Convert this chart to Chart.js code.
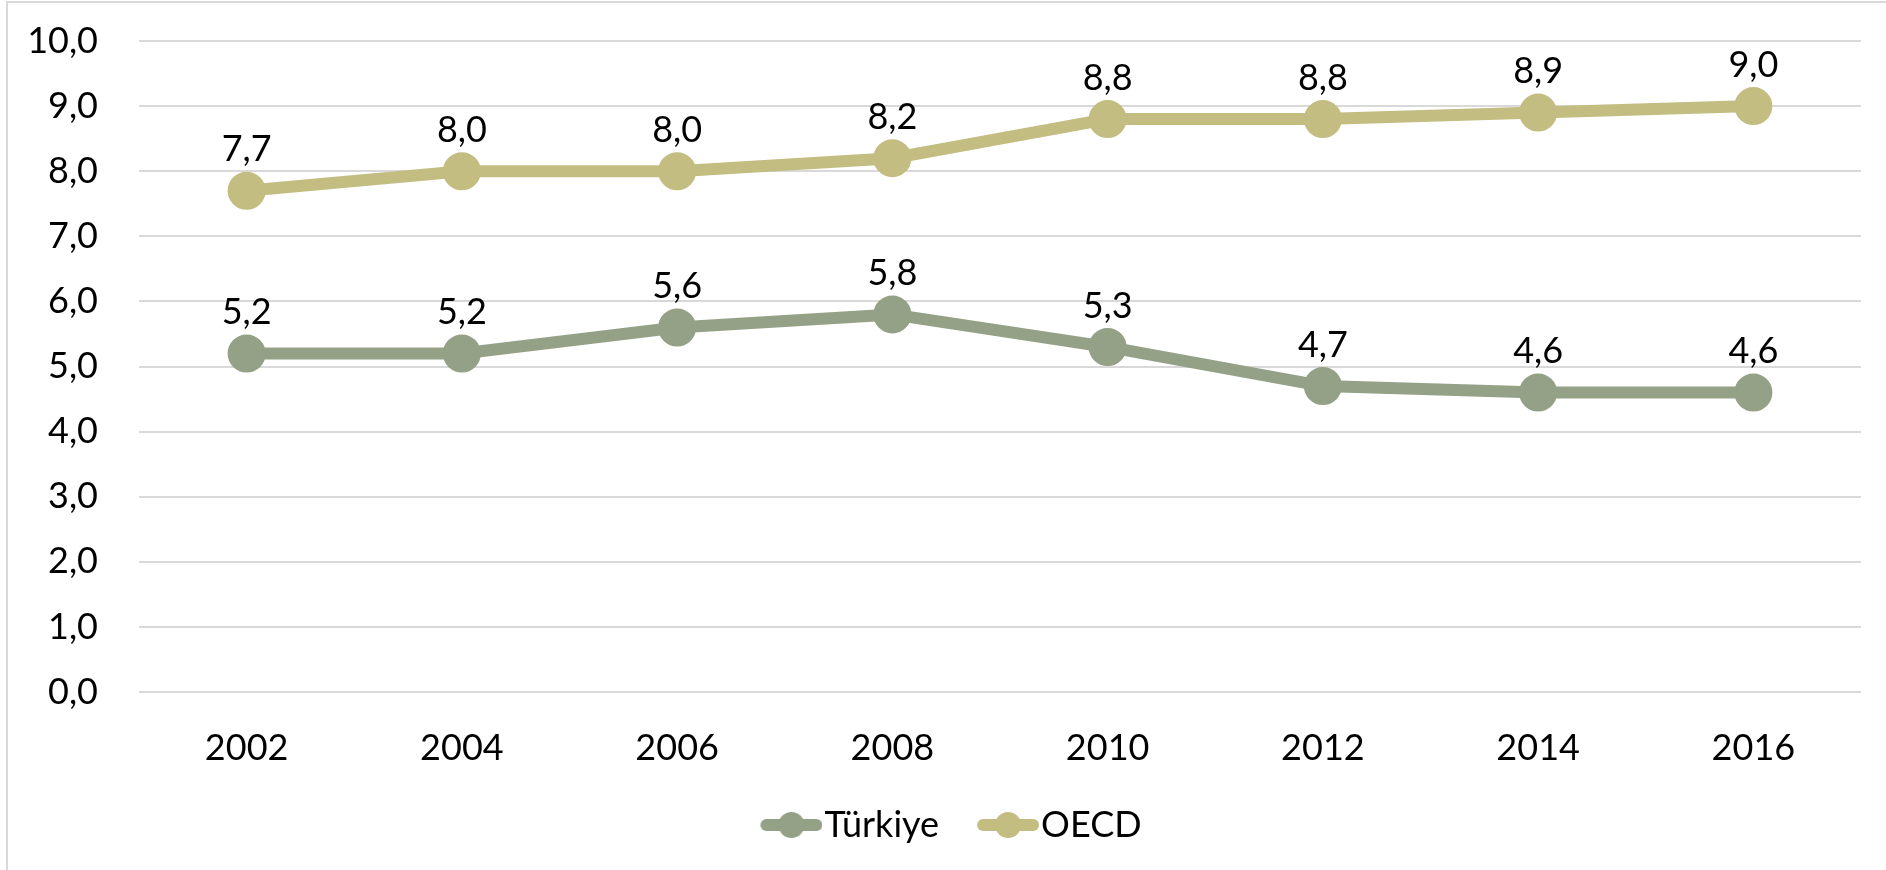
<!DOCTYPE html>
<html>
<head>
<meta charset="utf-8">
<script src="https://cdn.jsdelivr.net/npm/chart.js@4"></script>
<style>
  html, body { margin: 0; padding: 0; background: #fff; overflow: hidden; }
  #wrap { position: relative; width: 1886px; height: 870px; }
  #frame { position: absolute; left: 6px; top: 1px; width: 1900px; height: 900px; border: 2px solid #d9d9d9; box-sizing: border-box; }
  canvas { position: absolute; left: 0; top: 0; }
</style>
</head>
<body>
<div id="wrap">
  <div id="frame"></div>
  <canvas id="chart" width="1886" height="870"></canvas>
</div>
<script>
// data
const years = ['2002', '2004', '2006', '2008', '2010', '2012', '2014', '2016'];
const turkiye = [5.2, 5.2, 5.6, 5.8, 5.3, 4.7, 4.6, 4.6];
const oecd = [7.7, 8.0, 8.0, 8.2, 8.8, 8.8, 8.9, 9.0];

const colTurkiye = '#94a186';
const colOecd = '#c3bd82';
const FONT = 'Lato, "Open Sans", sans-serif';

const fmt = v => Number(v).toFixed(1).replace('.', ',');

// legend marker: a thick line with a dot in the middle (transparent left part gives spacing)
function legendMarker(color) {
  const c = document.createElement('canvas');
  c.width = 106; c.height = 28;
  const g = c.getContext('2d');
  g.strokeStyle = color;
  g.lineWidth = 12;
  g.lineCap = 'round';
  g.beginPath();
  g.moveTo(50, 14); g.lineTo(100, 14);
  g.stroke();
  g.fillStyle = color;
  g.beginPath();
  g.arc(75, 14, 13, 0, Math.PI * 2);
  g.fill();
  return c;
}

// value labels above each point
const valueLabels = {
  id: 'valueLabels',
  afterDatasetsDraw(chart) {
    const ctx = chart.ctx;
    ctx.save();
    ctx.font = '36px ' + FONT;
    ctx.fillStyle = '#000';
    ctx.textAlign = 'center';
    ctx.textBaseline = 'middle';
    chart.data.datasets.forEach((ds, i) => {
      chart.getDatasetMeta(i).data.forEach((pt, j) => {
        ctx.fillText(fmt(ds.data[j]), pt.x, pt.y - 41);
      });
    });
    ctx.restore();
  }
};

Chart.defaults.font.family = FONT;
Chart.defaults.color = '#000';

new Chart(document.getElementById('chart'), {
  type: 'line',
  data: {
    labels: years,
    datasets: [
      {
        label: 'Türkiye',
        data: turkiye,
        borderColor: colTurkiye,
        backgroundColor: colTurkiye,
        borderWidth: 12,
        pointRadius: 13,
        pointHoverRadius: 13,
        pointStyle: 'circle',
        tension: 0
      },
      {
        label: 'OECD',
        data: oecd,
        borderColor: colOecd,
        backgroundColor: colOecd,
        borderWidth: 12,
        pointRadius: 13,
        pointHoverRadius: 13,
        pointStyle: 'circle',
        tension: 0
      }
    ]
  },
  options: {
    responsive: false,
    animation: false,
    devicePixelRatio: 1,
    events: [],
    layout: { padding: { top: 41, right: 12, bottom: 17, left: 0 } },
    scales: {
      x: {
        offset: true,
        grid: { display: false, drawTicks: false, offset: true },
        border: { display: false },
        ticks: { font: { size: 36 }, color: '#000', padding: 35, maxRotation: 0 },
        afterFit(scale) {
          scale.height = 105;
          scale.paddingLeft = 0;
          scale.paddingRight = 0;
        }
      },
      y: {
        min: 0,
        max: 10,
        grid: { color: '#d9d9d9', lineWidth: 2, drawTicks: false },
        border: { display: false },
        ticks: { stepSize: 1, font: { size: 36 }, color: '#000', padding: 41, callback: v => fmt(v) },
        afterFit(scale) {
          scale.width = 139;
          // tick padding should not push the plot area down
          scale.paddingTop = 0;
          scale.paddingBottom = 0;
        }
      }
    },
    plugins: {
      tooltip: { enabled: false },
      legend: {
        position: 'bottom',
        labels: {
          font: { size: 36 },
          color: '#000',
          usePointStyle: true,
          pointStyleWidth: 74,
          padding: 10,
          generateLabels(chart) {
            return chart.data.datasets.map((ds, i) => ({
              text: ds.label,
              pointStyle: legendMarker(ds.borderColor),
              fillStyle: ds.borderColor,
              strokeStyle: ds.borderColor,
              lineWidth: 0,
              hidden: false,
              datasetIndex: i,
              fontColor: '#000'
            }));
          }
        }
      }
    }
  },
  plugins: [valueLabels]
});
</script>
</body>
</html>
